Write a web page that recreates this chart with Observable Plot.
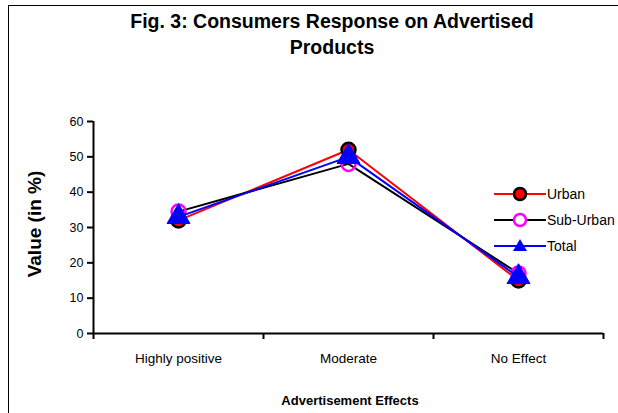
<!DOCTYPE html>
<html>
<head>
<meta charset="utf-8">
<script src="https://cdn.jsdelivr.net/npm/d3@7"></script>
<script src="https://cdn.jsdelivr.net/npm/@observablehq/plot@0.6"></script>
<style>
  html, body { margin: 0; padding: 0; background: #fff; overflow: hidden; }
  #wrap { position: relative; width: 618px; height: 413px; overflow: hidden; font-family: "Liberation Sans", Arial, sans-serif; }
  #frame { position: absolute; left: 8px; top: 5px; width: 800px; height: 600px; border: 1px solid #000; box-sizing: border-box; }
  #title { position: absolute; left: 0; top: 8px; width: 664px; text-align: center; font-weight: bold; font-size: 19.5px; line-height: 26px; color: #000; }
  #ylab { position: absolute; left: 35px; top: 224px; transform: translate(-50%, -50%) rotate(-90deg); font-weight: bold; font-size: 19px; white-space: nowrap; }
  #xlab { position: absolute; left: 0; width: 700px; top: 393px; text-align: center; font-weight: bold; font-size: 13px; }
  #legend { position: absolute; left: 494px; top: 181px; font-size: 14px; }
  .li { display: flex; align-items: center; height: 26px; }
  .li span { margin-left: 1px; }
  #chart { position: absolute; left: 0; top: 0; }
</style>
</head>
<body>
<div id="wrap">
  <div id="frame"></div>
  <div id="chart"></div>
  <div id="title">Fig. 3: Consumers Response on Advertised<br>Products</div>
  <div id="ylab">Value (in %)</div>
  <div id="xlab">Advertisement Effects</div>
  <div id="legend"></div>
</div>
<script>
const categories = ["Highly positive", "Moderate", "No Effect"];
const urban = [32, 52, 15];
const subUrban = [34.5, 48, 17];
const total = [33, 50, 16];
const yTicks = [0, 10, 20, 30, 40, 50, 60];

const seriesNames = ["Urban", "Sub-Urban", "Total"];
const seriesValues = [urban, subUrban, total];
const lineColors = ["#ff0000", "#000000", "#0000ff"];

const rows = [];
seriesNames.forEach((s, si) => categories.forEach((c, ci) => rows.push({series: s, idx: ci, cat: c, value: seriesValues[si][ci]})));
const of = s => rows.filter(d => d.series === s);
const boundaries = d3.range(categories.length + 1).map(i => i - 0.5);

const marks = [];
marks.push(Plot.axisY({ticks: yTicks, tickSize: 6, tickPadding: 4, fontSize: 12.5, label: null, stroke: "#000", strokeWidth: 2}));
marks.push(Plot.axisX({ticks: boundaries, tickSize: 6, tickFormat: () => "", label: null, strokeWidth: 2}));
marks.push(Plot.axisX({ticks: d3.range(categories.length), tickSize: 0, tickPadding: 20, tickFormat: i => categories[i], fontSize: 13.5, label: null}));
marks.push(Plot.ruleX([boundaries[0]], {stroke: "#000", strokeWidth: 2}));
marks.push(Plot.ruleY([0], {stroke: "#000", strokeWidth: 2}));

marks.push(Plot.line(of("Urban"), {x: "idx", y: "value", stroke: lineColors[0], strokeWidth: 2}));
marks.push(Plot.dot(of("Urban"), {x: "idx", y: "value", r: 7, fill: "#ff0000", stroke: "#000", strokeWidth: 2.5}));
marks.push(Plot.line(of("Sub-Urban"), {x: "idx", y: "value", stroke: lineColors[1], strokeWidth: 2}));
marks.push(Plot.dot(of("Sub-Urban"), {x: "idx", y: "value", r: 7, fill: "#fff", fillOpacity: 0, stroke: "#ff00ff", strokeWidth: 2.5}));
marks.push(Plot.line(of("Total"), {x: "idx", y: "value", stroke: lineColors[2], strokeWidth: 2}));
marks.push(Plot.dot(of("Total"), {x: "idx", y: "value", symbol: "triangle", r: 8.5, fill: "#0000ff", stroke: "#0000ff", strokeWidth: 1}));

const chart = Plot.plot({
  width: 618,
  height: 413,
  marginLeft: 93,
  marginRight: 15,
  marginTop: 121,
  marginBottom: 80,
  style: {background: "transparent", fontFamily: "'Liberation Sans', Arial, sans-serif", color: "#000"},
  x: {domain: [-0.5, categories.length - 0.5], axis: null},
  y: {domain: [0, 60], axis: null},
  marks
});
document.getElementById("chart").appendChild(chart);

const leg = document.getElementById("legend");
const markerSvg = [
  '<circle cx="26" cy="8" r="6" fill="#ff0000" stroke="#000" stroke-width="2.5"/>',
  '<circle cx="26" cy="8" r="6" fill="#fff" stroke="#ff00ff" stroke-width="2.5"/>',
  '<path d="M26,1 L33,13 L19,13 Z" fill="#0000ff"/>'
];
seriesNames.forEach((s, i) => {
  const div = document.createElement("div");
  div.className = "li";
  div.innerHTML = `<svg width="52" height="16"><line x1="0" y1="8" x2="52" y2="8" stroke="${lineColors[i]}" stroke-width="2"/>${markerSvg[i]}</svg><span>${s}</span>`;
  leg.appendChild(div);
});
</script>
</body>
</html>
